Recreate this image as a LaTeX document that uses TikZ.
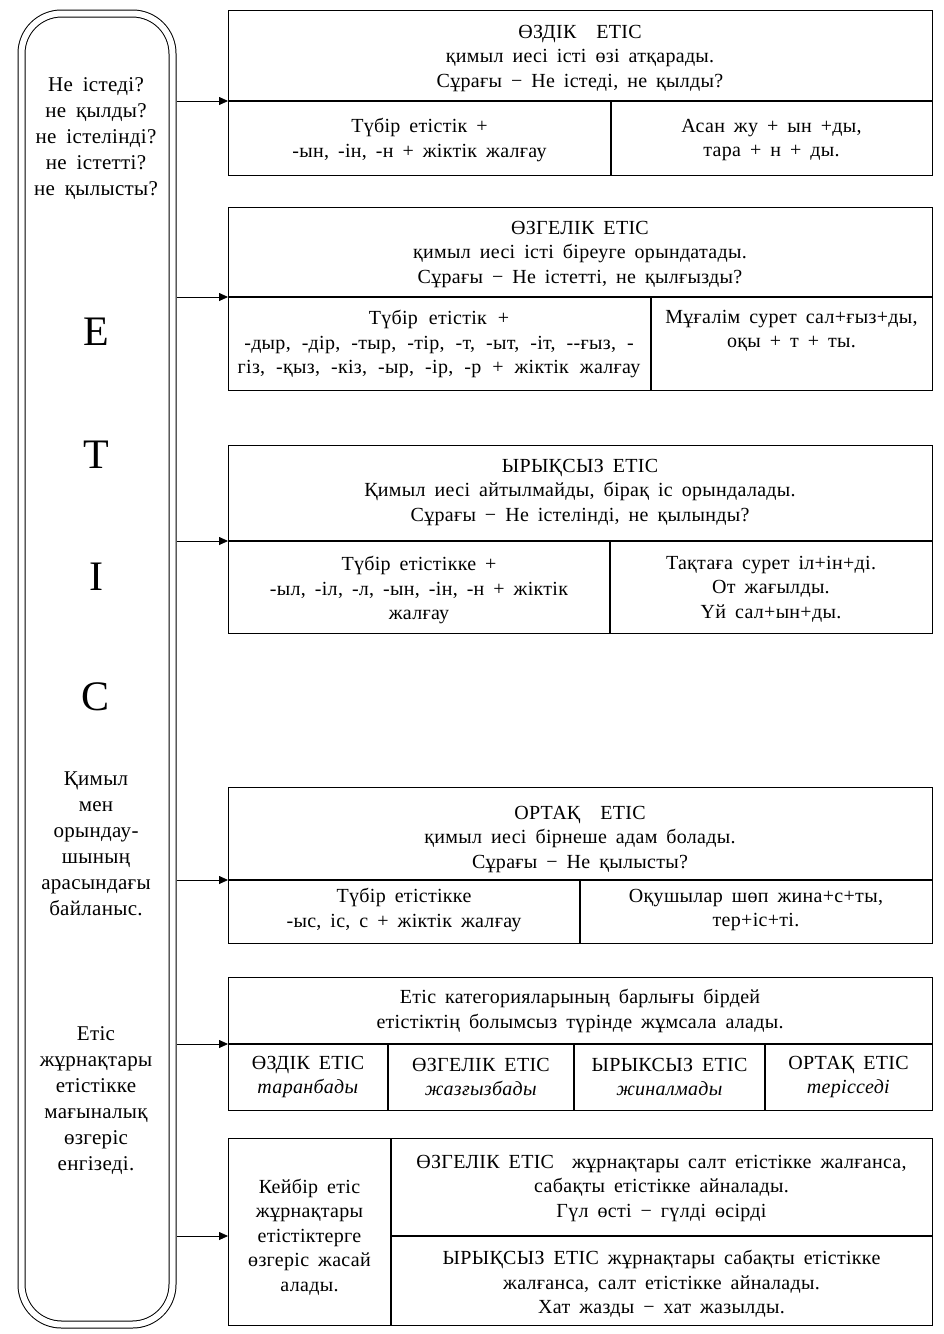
\documentclass[tikz,border=0pt]{standalone}
\usepackage{fontspec}
\setmainfont[LetterSpace=1.5]{Liberation Serif}
\usetikzlibrary{arrows.meta}
\newcommand\boxfont{\fontsize{20}{24.5}\selectfont\spaceskip=9pt plus 2pt minus 1pt\relax}
\newcommand\widefont{\fontsize{20}{24.5}\selectfont\spaceskip=11pt plus 2pt minus 1pt\relax}
\newcommand\colfont{\fontsize{21}{26}\selectfont\spaceskip=10pt plus 2pt minus 1pt\relax}
\begin{document}
\begin{tikzpicture}[x=1pt,y=-1pt,
  box/.style={draw, line width=1.3pt, inner sep=0pt, anchor=north west},
  sepline/.style={line width=1.1pt},
  txt/.style={align=center, font=\boxfont, inner sep=0pt},
  ltxt/.style={align=center, font=\colfont, inner sep=0pt},
  big/.style={font=\fontsize{42}{42}\selectfont, inner sep=0pt},
  arr/.style={line width=0.8pt, -{Triangle[length=9pt,width=8pt]}},
]
\useasboundingbox[fill=white] (0,0) rectangle (944,1334);

% left rounded column
\node[draw, double, line width=1pt, double distance=6pt, rounded corners=40pt,
      minimum width=151pt, minimum height=1311pt, inner sep=0pt, anchor=north west] (L) at (21,13) {};
\node[ltxt] (q) at (96,139) {Не істеді?\\не қылды?\\не істелінді?\\не істетті?\\не қылысты?};
\node[big] (e1) at (96,332) {Е};
\node[big] (e2) at (96,455) {Т};
\node[big] (e3) at (96,577) {І};
\node[big] (e4) at (96,697) {С};
\node[ltxt] (m1) at (96,844) {Қимыл\\мен\\орындау-\\шының\\арасындағы\\байланыс.};
\node[ltxt] (m2) at (96,1101) {Етіс\\жұрнақтары\\етістікке\\мағыналық\\өзгеріс\\енгізеді.};

% box 1
\node[box, minimum width=704pt, minimum height=165pt] (b1) at (228,10) {};
\coordinate (d1) at (228,101);
\draw[sepline] (d1) -- (d1 -| b1.east);
\draw[sepline] (611,101) -- (611,101 |- b1.south);
\node[txt] (b1t) at (580,58) {ӨЗДІК\quad ЕТІС\\қимыл иесі істі өзі атқарады.\\Сұрағы − Не істеді, не қылды?};
\node[txt] (b1l) at (419.5,140) {Түбір етістік +\\-ын, -ін, -н + жіктік жалғау};
\node[txt] (b1r) at (771.5,140) {Асан жу + ын +ды,\\тара + н + ды.};

% box 2
\node[box, minimum width=704pt, minimum height=183pt] (b2) at (228,207) {};
\coordinate (d2) at (228,297);
\draw[sepline] (d2) -- (d2 -| b2.east);
\draw[sepline] (651,297) -- (651,297 |- b2.south);
\node[txt] (b2t) at (580,254) {ӨЗГЕЛІК ЕТІС\\қимыл иесі істі біреуге орындатады.\\Сұрағы − Не істетті, не қылғызды?};
\node[txt, font=\widefont] (b2l) at (439,344) {Түбір етістік +\\-дыр, -дір, -тыр, -тір, -т, -ыт, -іт, -{}-ғыз, -\\гіз, -қыз, -кіз, -ыр, -ір, -р + жіктік жалғау};
\node[txt] (b2r) at (791.5,331) {Мұғалім сурет сал+ғыз+ды,\\оқы + т + ты.};

% box 3
\node[box, minimum width=704pt, minimum height=188pt] (b3) at (228,445) {};
\coordinate (d3) at (228,541);
\draw[sepline] (d3) -- (d3 -| b3.east);
\draw[sepline] (610,541) -- (610,541 |- b3.south);
\node[txt] (b3t) at (580,492) {ЫРЫҚСЫЗ ЕТІС\\Қимыл иесі айтылмайды, бірақ іс орындалады.\\Сұрағы − Не істелінді, не қылынды?};
\node[txt] (b3l) at (419,590) {Түбір етістікке +\\-ыл, -іл, -л, -ын, -ін, -н + жіктік\\жалғау};
\node[txt] (b3r) at (771,589) {Тақтаға сурет іл+ін+ді.\\От жағылды.\\Үй сал+ын+ды.};

% box 4
\node[box, minimum width=704pt, minimum height=156pt] (b4) at (228,787) {};
\coordinate (d4) at (228,880);
\draw[sepline] (d4) -- (d4 -| b4.east);
\draw[sepline] (580,880) -- (580,880 |- b4.south);
\node[txt] (b4t) at (580,839) {ОРТАҚ\quad ЕТІС\\қимыл иесі бірнеше адам болады.\\Сұрағы − Не қылысты?};
\node[txt] (b4l) at (404,910) {Түбір етістікке\\-ыс, іс, с + жіктік жалғау};
\node[txt] (b4r) at (756,910) {Оқушылар шөп жина+с+ты,\\тер+іс+ті.};

% box 5
\node[box, minimum width=704pt, minimum height=133pt] (b5) at (228,977) {};
\coordinate (d5) at (228,1044);
\draw[sepline] (d5) -- (d5 -| b5.east);
\draw[sepline] (388,1044) -- (388,1044 |- b5.south);
\draw[sepline] (574,1044) -- (574,1044 |- b5.south);
\draw[sepline] (765,1044) -- (765,1044 |- b5.south);
\node[txt] (b5t) at (580,1011) {Етіс категорияларының барлығы бірдей\\етістіктің болымсыз түрінде жұмсала алады.};
\node[txt] (b5a) at (308,1077) {ӨЗДІК ЕТІС\\\textit{таранбады}};
\node[txt] (b5b) at (481,1077) {ӨЗГЕЛІК ЕТІС\\\textit{жазғызбады}};
\node[txt] (b5c) at (669.5,1077) {ЫРЫКСЫЗ ЕТІС\\\textit{жиналмады}};
\node[txt] (b5d) at (848.5,1077) {ОРТАҚ ЕТІС\\\textit{терісседі}};

% box 6
\node[box, minimum width=704pt, minimum height=187pt] (b6) at (228,1138) {};
\coordinate (d6) at (228,1236);
\coordinate (c6) at (391,1236);
\draw[sepline] (391,1138) -- (391,1138 |- b6.south);
\draw[sepline] (c6) -- (c6 -| b6.east);
\node[txt] (b6l) at (309.5,1237) {Кейбір етіс\\жұрнақтары\\етістіктерге\\өзгеріс жасай\\алады.};
\node[txt] (b6a) at (661.5,1188) {ӨЗГЕЛІК ЕТІС\ \ жұрнақтары салт етістікке жалғанса,\\сабақты етістікке айналады.\\Гүл өсті − гүлді өсірді};
\node[txt] (b6b) at (661.5,1284) {ЫРЫҚСЫЗ ЕТІС жұрнақтары сабақты етістікке\\жалғанса, салт етістікке айналады.\\Хат жазды − хат жазылды.};

% connectors
\draw[arr] ([xshift=4pt]L.east |- d1) -- (d1);
\draw[arr] ([xshift=4pt]L.east |- d2) -- (d2);
\draw[arr] ([xshift=4pt]L.east |- d3) -- (d3);
\draw[arr] ([xshift=4pt]L.east |- d4) -- (d4);
\draw[arr] ([xshift=4pt]L.east |- d5) -- (d5);
\draw[arr] ([xshift=4pt]L.east |- d6) -- (d6);
\end{tikzpicture}
\end{document}
